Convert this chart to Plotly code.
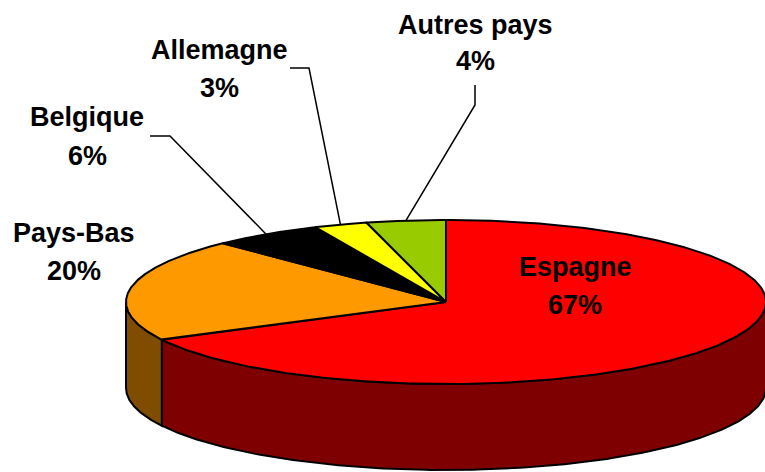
import numpy as np
import plotly.graph_objects as go

# Data
categories = ["Espagne", "Pays-Bas", "Belgique", "Allemagne", "Autres pays"]
values = [67.4, 20.3, 5.6, 2.7, 4.0]
labels_pct = ["67%", "20%", "6%", "3%", "4%"]

# Style
top_colors = ["#FF0000", "#FF9900", "#000000", "#FFFF00", "#99CC00"]
side_colors = ["#7F0000", "#804D00", "#000000", "#808000", "#4D6600"]
CX, CY, RX, RY, DEPTH = 446, 302, 320, 82, 86
FONT = dict(family="Liberation Sans, Arial, sans-serif", size=27, color="#000000")
# label centres (name line, percent line)
label_pos = {
    "Espagne": (575, 267, 305),
    "Pays-Bas": (74, 233, 271),
    "Belgique": (87, 117, 156),
    "Allemagne": (219, 50, 88),
    "Autres pays": (475, 25, 61),
}
# leader elbow points (from text end to elbow)
leaders = {
    "Belgique": [(150, 136), (170, 136)],
    "Allemagne": [(290, 68), (309, 68)],
    "Autres pays": [(475, 85), (475, 105)],
}


def pt(theta, dz=0.0):
    return CX + RX * np.sin(theta), CY - RY * np.cos(theta) + dz


fractions = np.array(values) / sum(values)
edges = np.concatenate([[0.0], np.cumsum(fractions)]) * 2 * np.pi

fig = go.Figure()


def poly(x, y, color):
    fig.add_trace(go.Scatter(
        x=x, y=y, mode="lines", fill="toself", fillcolor=color,
        line=dict(color="#000000", width=2), hoverinfo="skip", showlegend=False,
    ))


# Walls: only the front half of the ellipse is visible
for i in range(len(values)):
    a = max(edges[i], np.pi / 2)
    b = min(edges[i + 1], 3 * np.pi / 2)
    if b <= a:
        continue
    t = np.linspace(a, b, 200)
    x1, y1 = pt(t)
    x2, y2 = pt(t[::-1], DEPTH)
    poly(np.r_[x1, x2, x1[0]], np.r_[y1, y2, y1[0]], side_colors[i])

# Top faces
for i in range(len(values)):
    t = np.linspace(edges[i], edges[i + 1], 300)
    x, y = pt(t)
    poly(np.r_[CX, x, CX], np.r_[CY, y, CY], top_colors[i])

# Leader lines, ending on the middle of each slice's rim
for i, name in enumerate(categories):
    if name in leaders:
        ex, ey = pt((edges[i] + edges[i + 1]) / 2)
        xs = [p[0] for p in leaders[name]] + [ex]
        ys = [p[1] for p in leaders[name]] + [ey]
        fig.add_trace(go.Scatter(
            x=xs, y=ys, mode="lines", line=dict(color="#000000", width=1.5),
            hoverinfo="skip", showlegend=False,
        ))

# Labels
annotations = []
for name, pct in zip(categories, labels_pct):
    lx, ly1, ly2 = label_pos[name]
    for txt, ly in ((name, ly1), (pct, ly2)):
        annotations.append(dict(
            x=lx, y=ly, xref="x", yref="y", text="<b>%s</b>" % txt, showarrow=False,
            xanchor="center", yanchor="middle", font=FONT,
        ))

fig.update_layout(
    width=765, height=472, margin=dict(l=0, r=0, t=0, b=0),
    paper_bgcolor="#FFFFFF", plot_bgcolor="#FFFFFF", annotations=annotations,
    xaxis=dict(range=[0, 765], visible=False, fixedrange=True),
    yaxis=dict(range=[472, 0], visible=False, fixedrange=True),
)
fig.write_html("out.html", config=dict(displayModeBar=False),
               post_script="document.body.style.margin='0';document.body.style.overflow='hidden';")
